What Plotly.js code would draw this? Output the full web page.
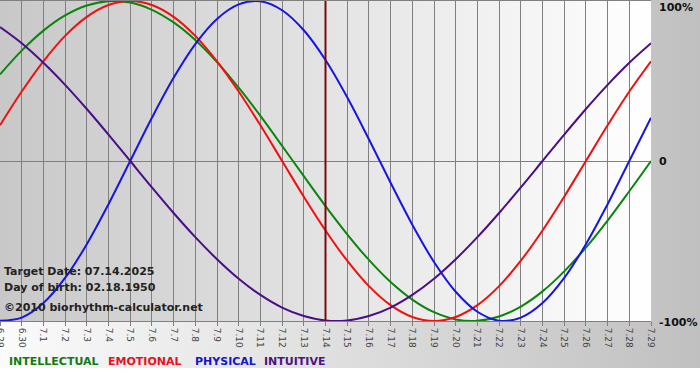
<!DOCTYPE html>
<html><head><meta charset="utf-8">
<script src="https://cdn.plot.ly/plotly-3.0.1.min.js"></script>
<style>html,body{margin:0;padding:0;background:#fff;}#chart{width:700px;height:380px;}</style>
</head><body><div id="chart"></div>
<script>
var dateLabels = ['6.29','6.30','7.1','7.2','7.3','7.4','7.5','7.6','7.7','7.8','7.9','7.10','7.11','7.12','7.13','7.14','7.15','7.16','7.17','7.18','7.19','7.20','7.21','7.22','7.23','7.24','7.25','7.26','7.27','7.28','7.29'];
var intellectual = [0.541,0.690,0.815,0.910,0.972,0.999,0.990,0.945,0.866,0.756,0.618,0.458,0.282,0.095,-0.095,-0.282,-0.458,-0.618,-0.756,-0.866,-0.945,-0.990,-0.999,-0.972,-0.910,-0.815,-0.690,-0.541,-0.372,-0.189,0.000];
var emotional = [0.223,0.434,0.623,0.782,0.901,0.975,1.000,0.975,0.901,0.782,0.623,0.434,0.223,0.000,-0.223,-0.434,-0.623,-0.782,-0.901,-0.975,-1.000,-0.975,-0.901,-0.782,-0.623,-0.434,-0.223,0.000,0.223,0.434,0.623];
var physical = [-0.998,-0.979,-0.888,-0.731,-0.520,-0.270,0.000,0.270,0.520,0.731,0.888,0.979,0.998,0.942,0.817,0.631,0.398,0.136,-0.136,-0.398,-0.631,-0.817,-0.942,-0.998,-0.979,-0.888,-0.731,-0.520,-0.270,0.000,0.270];
var intuitive = [0.837,0.736,0.614,0.476,0.325,0.165,0.000,-0.165,-0.325,-0.476,-0.614,-0.736,-0.837,-0.916,-0.969,-0.997,-0.997,-0.969,-0.916,-0.837,-0.736,-0.614,-0.476,-0.325,-0.165,0.000,0.165,0.325,0.476,0.614,0.736];
var targetDate = '7.14';
var yTickVals = [1, 0, -1];
var yTickText = ['100%', '0', '-100%'];
var infoLines = ['Target Date: 07.14.2025', 'Day of birth: 02.18.1950', '\u00a92010 biorhythm-calculator.net'];
var legendNames = ['INTELLECTUAL', 'EMOTIONAL', 'PHYSICAL', 'INTUITIVE'];

var colors = ['#0b850b', '#f01010', '#1515e6', '#4a0e88'];
var legendColors = ['#127a12', '#e8101c', '#1414cc', '#4e1282'];

function gradient(w, h, c0, c1, hStop) {
  var cv = document.createElement('canvas'); cv.width = w; cv.height = h;
  var ctx = cv.getContext('2d');
  ctx.fillStyle = '#ffffff'; ctx.fillRect(0, 0, w, h);
  var g = ctx.createLinearGradient(0, 0, w, 0);
  g.addColorStop(0, c0); g.addColorStop(1, c1);
  ctx.fillStyle = g; ctx.fillRect(0, 0, w, hStop || h);
  return cv.toDataURL();
}

var W = 700, H = 380, ml = 0, mr = 49, mt = 1, mb = 59;
var pw = W - ml - mr, ph = H - mt - mb;
function px(x) { return (x - ml) / pw; }
function py(y) { return (H - mb - y) / ph; }

var series = [intellectual, emotional, physical, intuitive];
var traces = series.map(function (s, i) {
  return { x: dateLabels, y: s, type: 'scatter', mode: 'lines', name: legendNames[i],
    line: { color: colors[i], width: 2, shape: 'spline', smoothing: 1 }, hoverinfo: 'skip' };
});
traces.push({ x: [targetDate, targetDate], y: [-1, 1], type: 'scatter', mode: 'lines',
  line: { color: '#7a0a0a', width: 2 }, hoverinfo: 'skip' });

var annotations = [];
yTickVals.forEach(function (v, i) {
  var yy = v === 1 ? py(7) : (v === 0 ? py(161) : py(322));
  annotations.push({ xref: 'paper', yref: 'paper', x: px(657), y: yy, xanchor: 'left', yanchor: 'middle',
    text: '<b>' + yTickText[i] + '</b>', showarrow: false, font: { family: 'DejaVu Sans', size: 11, color: '#111' } });
});
var infoY = [271, 287, 307];
infoLines.forEach(function (t, i) {
  annotations.push({ xref: 'paper', yref: 'paper', x: px(2), y: py(infoY[i]), xanchor: 'left', yanchor: 'middle',
    text: '<b>' + t + '</b>', showarrow: false, font: { family: 'DejaVu Sans', size: 11, color: '#222' } });
});
var legX = [7, 106, 193, 262];
legendNames.forEach(function (n, i) {
  annotations.push({ xref: 'paper', yref: 'paper', x: px(legX[i]), y: py(361), xanchor: 'left', yanchor: 'middle',
    text: '<b>' + n + '</b>', showarrow: false, font: { family: 'DejaVu Sans', size: 11, color: legendColors[i] } });
});

var layout = {
  width: W, height: H, margin: { l: ml, r: mr, t: mt, b: mb, pad: 0 },
  paper_bgcolor: '#ffffff', plot_bgcolor: 'rgba(0,0,0,0)', showlegend: false,
  images: [
    { source: gradient(700, 380, '#fbfbfb', '#c0c0c0', 368), xref: 'paper', yref: 'paper',
      x: px(0), y: py(0), sizex: 700 / pw, sizey: 380 / ph, sizing: 'stretch', xanchor: 'left', yanchor: 'top', layer: 'below' },
    { source: gradient(651, 320, '#c8c8c8', '#ffffff'), xref: 'paper', yref: 'paper',
      x: 0, y: 1, sizex: 1, sizey: 1, sizing: 'stretch', xanchor: 'left', yanchor: 'top', layer: 'below' }
  ],
  xaxis: { type: 'category', range: [0, 30], showgrid: true, gridcolor: '#808080', gridwidth: 1,
    ticks: 'outside', ticklen: 4, tickcolor: '#808080', tickangle: 90,
    tickfont: { family: 'DejaVu Sans', size: 9, color: '#444' },
    showline: true, mirror: true, linecolor: '#808080', linewidth: 1, zeroline: false, fixedrange: true },
  yaxis: { range: [-1, 1], showgrid: false, zeroline: true, zerolinecolor: '#808080', zerolinewidth: 1,
    showticklabels: false, ticks: '', fixedrange: true },
  annotations: annotations
};
Plotly.newPlot('chart', traces, layout, { displayModeBar: false, staticPlot: true });
</script></body></html>
